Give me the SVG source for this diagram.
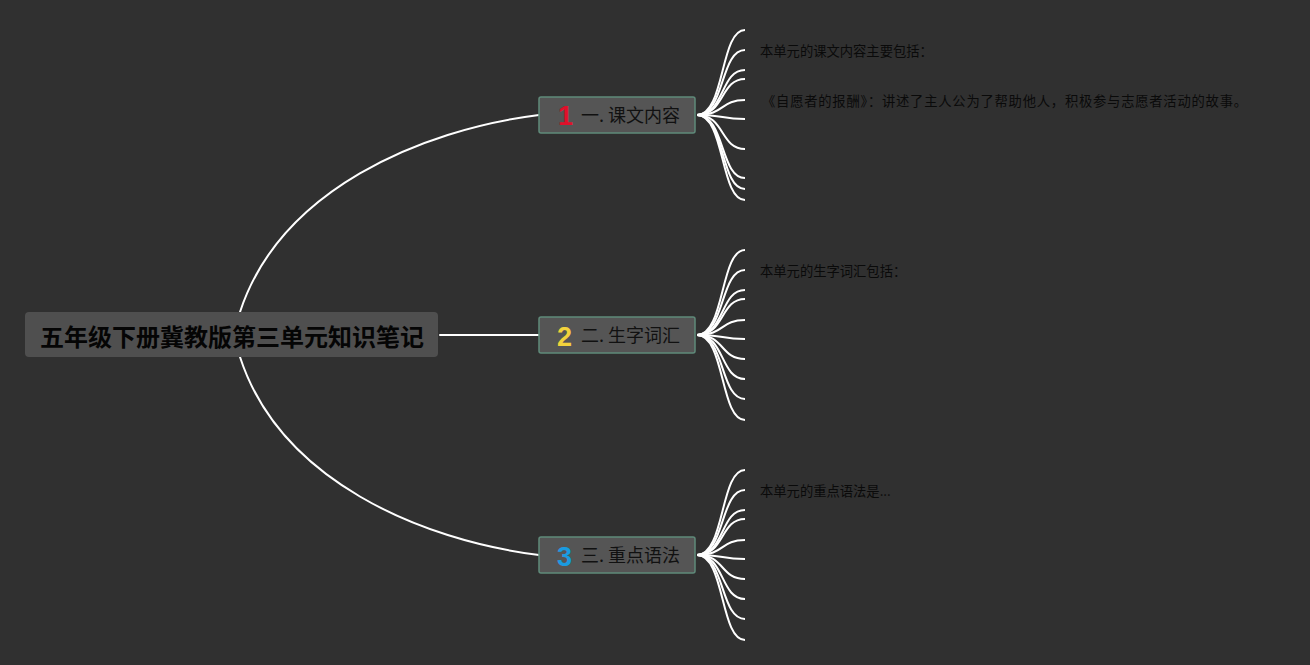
<svg xmlns="http://www.w3.org/2000/svg" width="1310" height="665" viewBox="0 0 1310 665">
<style>
.bg{fill:#303030}
.ln{fill:none;stroke:#ffffff;stroke-width:2;stroke-linecap:round}
.br{fill:none;stroke:#ffffff;stroke-width:2}
.sub{fill:#555555;stroke:#5f8a7a;stroke-width:1.5}
.st{font-family:"Noto Sans CJK SC","Noto Sans",sans-serif;font-size:18px;fill:#111111}
.num{font-family:"Liberation Sans",Arial,sans-serif;font-weight:bold;font-size:27px}
.tx{font-family:"Noto Sans CJK SC","Noto Sans",sans-serif;font-size:13.3px;fill:#0a0a0a}
</style>
<rect class="bg" x="0" y="0" width="1310" height="665"/>
<g id="connectors">
<path class="ln" d="M240,312 C280,190 420,130 539,115"/>
<path class="ln" d="M440,335 L539,335"/>
<path class="ln" d="M240,357 C280,480 420,540 539,555"/>
<g>
<path class="br" d="M697,115 C725,115 720,30 745,30"/>
<path class="br" d="M697,115 C725,115 720,50 745,50"/>
<path class="br" d="M697,115 C725,115 720,70 745,70"/>
<path class="br" d="M697,115 C725,115 720,79 745,79"/>
<path class="br" d="M697,115 C725,115 720,100 745,100"/>
<path class="br" d="M697,115 C725,115 720,119 745,119"/>
<path class="br" d="M697,115 C725,115 720,149 745,149"/>
<path class="br" d="M697,115 C725,115 720,178 745,178"/>
<path class="br" d="M697,115 C725,115 720,189 745,189"/>
<path class="br" d="M697,115 C725,115 720,200 745,200"/>
</g>
<g>
<path class="br" d="M697,335 C725,335 720,250 745,250"/>
<path class="br" d="M697,335 C725,335 720,270 745,270"/>
<path class="br" d="M697,335 C725,335 720,290 745,290"/>
<path class="br" d="M697,335 C725,335 720,299 745,299"/>
<path class="br" d="M697,335 C725,335 720,320 745,320"/>
<path class="br" d="M697,335 C725,335 720,339 745,339"/>
<path class="br" d="M697,335 C725,335 720,359 745,359"/>
<path class="br" d="M697,335 C725,335 720,379 745,379"/>
<path class="br" d="M697,335 C725,335 720,399 745,399"/>
<path class="br" d="M697,335 C725,335 720,420 745,420"/>
</g>
<g>
<path class="br" d="M697,555 C725,555 720,470 745,470"/>
<path class="br" d="M697,555 C725,555 720,490 745,490"/>
<path class="br" d="M697,555 C725,555 720,510 745,510"/>
<path class="br" d="M697,555 C725,555 720,519 745,519"/>
<path class="br" d="M697,555 C725,555 720,540 745,540"/>
<path class="br" d="M697,555 C725,555 720,559 745,559"/>
<path class="br" d="M697,555 C725,555 720,579 745,579"/>
<path class="br" d="M697,555 C725,555 720,599 745,599"/>
<path class="br" d="M697,555 C725,555 720,619 745,619"/>
<path class="br" d="M697,555 C725,555 720,640 745,640"/>
</g>
</g>
<g id="root">
<rect x="25" y="312" width="413" height="45" rx="4" fill="#4f4f4f"/>
<text x="232" y="346" text-anchor="middle" font-family="'Noto Sans CJK SC','Noto Sans',sans-serif" font-size="24" font-weight="bold" fill="#050505">五年级下册冀教版第三单元知识笔记</text>
</g>
<g id="topic1">
<rect class="sub" x="539" y="97" width="156" height="36" rx="2"/>
<text class="num" x="558" y="125" fill="#e0102a">1</text>
<text class="st" x="581" y="122">一. 课文内容</text>
</g>
<g id="topic2">
<rect class="sub" x="539" y="317" width="156" height="36" rx="2"/>
<text class="num" x="557" y="346" fill="#f2d23c">2</text>
<text class="st" x="581" y="342">二. 生字词汇</text>
</g>
<g id="topic3">
<rect class="sub" x="539" y="537" width="156" height="36" rx="2"/>
<text class="num" x="557" y="566" fill="#1a9be0">3</text>
<text class="st" x="581" y="562">三. 重点语法</text>
</g>
<g id="leaf1a"><text class="tx" x="760" y="56">本单元的课文内容主要包括：</text></g>
<g id="leaf1b"><text class="tx" x="762" y="106" textLength="485" lengthAdjust="spacing">《自愿者的报酬》：讲述了主人公为了帮助他人，积极参与志愿者活动的故事。</text></g>
<g id="leaf2a"><text class="tx" x="760" y="276">本单元的生字词汇包括：</text></g>
<g id="leaf3a"><text class="tx" x="760" y="496">本单元的重点语法是...</text></g>
</svg>
